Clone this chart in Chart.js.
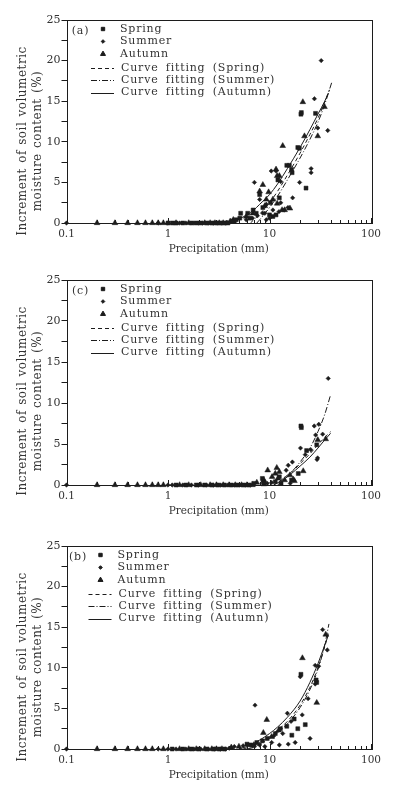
<!DOCTYPE html>
<html>
<head>
<meta charset="utf-8">
<script src="https://cdn.jsdelivr.net/npm/chart.js@4.4.0/dist/chart.umd.min.js"></script>
<style>
body { margin: 0; background: #fff; width: 395px; height: 797px; position: relative; overflow: hidden; }
.panel { position: absolute; left: 0; width: 395px; }
</style>
</head>
<body>
<div class="panel" style="top:0px"><canvas id="chartA" width="395" height="265"></canvas></div>
<div class="panel" style="top:260px"><canvas id="chartC" width="395" height="267"></canvas></div>
<div class="panel" style="top:526px"><canvas id="chartB" width="395" height="265"></canvas></div>
<script>
var precipTicks = [0.1, 1, 10, 100];
var seasons = ['Spring', 'Summer', 'Autumn'];
var fitLabels = ['Curve fitting (Spring)', 'Curve fitting (Summer)', 'Curve fitting (Autumn)'];

// panel (a): [precipitation mm, increment %]
var aSpring = [[4.5,0.2],[4.7,0.4],[5.1,0.6],[5.2,1.2],[6.1,1.2],[6.4,0.6],[6.9,1.6],[7.4,1.2],[8.0,3.5],[8.6,1.9],[10,1.0],[10.2,2.5],[10.8,0.8],[11.6,1.0],[12.1,5.3],[12.5,3.1],[14.8,7.1],[15.7,7.1],[16.5,6.6],[16.7,6.2],[19.0,9.3],[19.7,9.2],[20.4,13.4],[20.6,13.6],[22.9,4.3],[28.4,13.5]];
var aSpringZero = [1.0,1.1,1.2,1.4,1.7,1.9,2.1,2.4,2.7,3.0,3.3,3.6,3.9];
var aSummer = [[3.8,0.1],[4.3,0.3],[5.9,0.4],[6.8,0.6],[7.1,5.0],[7.6,0.9],[8.0,2.9],[8.6,1.2],[9.0,1.2],[9.3,2.3],[9.3,0.4],[10,0.6],[10.4,6.4],[10.8,1.6],[11.6,6.4],[12.4,1.4],[12.9,5.1],[12.9,2.5],[14.0,1.6],[15.2,1.9],[16.9,3.1],[19.8,5.0],[25.7,6.7],[25.7,6.2],[27.7,15.3],[29.9,11.7],[32.3,20.0],[37.5,11.4]];
var aSummerZero = [0.1,0.8,1.0,1.3,1.5,1.8,2.0,2.2,2.5,2.8,3.1,3.4,3.7];
var aAutumn = [[4.1,0.2],[4.4,0.4],[5.9,0.8],[6.85,1.2],[8.0,3.9],[8.6,4.7],[9.0,2.1],[9.3,2.9],[9.8,3.8],[10.8,2.9],[11.6,6.6],[11.9,5.8],[11.9,2.4],[12.5,5.8],[13.3,1.6],[13.5,9.5],[14.1,1.6],[15.9,1.8],[21.3,14.9],[22.1,10.7],[29.9,10.7],[34.8,14.3]];
var aAutumnZero = [0.2,0.3,0.4,0.5,0.6,0.7,0.8,0.9,1.2,1.6,2.3,2.6,2.9,3.2,3.5];
var aSpringFit = [[6.5,0],[7,0.4],[8,1.1],[10,2.5],[12,3.9],[15,5.9],[20,8.6],[25,10.9],[30,12.9],[35,14.9],[39,16.4]];
var aSummerFit = [[7.5,0],[8,0.4],[10,1.9],[12,3.3],[15,5.3],[20,8.0],[25,10.3],[30,12.4],[35,14.6],[41,17.3]];
var aAutumnFit = [[4,0],[5,0.5],[6,1.0],[7,1.6],[8,2.3],[10,3.5],[12,4.8],[15,6.7],[20,9.3],[25,11.5],[30,13.4],[35,15.0],[38,16.0]];

// panel (c)
var cSpring = [[7,0.2],[8.7,0.4],[8.8,0.3],[8.5,0.8],[11.4,0.4],[12.5,1.0],[13,0.2],[16.5,0.6],[19.2,1.4],[20.4,7.2],[20.6,7.0],[23.2,4.2],[29.2,4.9]];
var cSpringZero = [1.2,1.5,1.9,2.3,2.7,3.1,3.6,4.2,4.8,5.5,6.2];
var cSummer = [[9.5,0.2],[10.5,0.3],[14.6,1.8],[15.3,2.4],[16.8,2.8],[16,0.2],[20.2,4.5],[22.5,3.7],[25.5,4.3],[27.6,7.2],[28.5,6.1],[29.4,3.1],[29.8,3.3],[30.6,7.4],[33.4,6.2],[37.9,13.0]];
var cSummerZero = [0.1,1.0,1.1,1.4,1.7,2.0,2.4,2.8,3.3,3.9,4.5,5.1,5.8,6.5];
var cAutumn = [[7.5,0.3],[8.8,0.6],[8.8,0.1],[9.6,1.8],[10.6,1.0],[11.4,1.4],[11.8,2.1],[12.1,0.8],[12.5,1.6],[14.1,0.6],[15.9,1.2],[17.1,0.7],[17.6,0.5],[21.5,1.7],[29.9,5.5],[35.8,5.6]];
var cAutumnZero = [0.2,0.3,0.4,0.5,0.6,0.7,0.8,0.9,1.3,1.6,2.1,2.6,3.0,3.5,4.0,4.6,5.3,6.0,6.8];
var cSpringFit = [[11,0],[13,0.6],[15,1.2],[18,2.0],[20,2.6],[25,3.8],[30,4.9],[35,5.8],[40,6.5]];
var cSummerFit = [[12,0],[14,0.7],[16,1.4],[20,2.8],[25,4.5],[30,6.5],[35,8.6],[40,11.0]];
var cAutumnFit = [[11,0],[13,0.5],[15,1.0],[18,1.8],[20,2.3],[25,3.4],[30,4.5],[35,5.5],[40,6.3]];

// panel (b)
var bSpring = [[6,0.6],[6.5,0.5],[7,0.4],[7.5,0.8],[8.5,1.0],[9.5,1.3],[11.4,1.9],[12.8,2.5],[14.8,2.8],[16.6,1.7],[17.5,3.7],[19.0,2.5],[20.4,9.2],[22.5,3.0],[29.2,8.2],[28.8,8.5]];
var bSpringZero = [1.1,1.4,1.7,2.0,2.4,2.8,3.2,3.6];
var bSummer = [[4.0,0.1],[4.5,0.3],[5.5,0.4],[7.2,5.4],[8,0.5],[9,0.3],[10.5,0.8],[11,1.6],[12.5,0.5],[13.5,1.9],[15.0,4.4],[15.3,0.6],[16.3,3.4],[17.9,0.8],[20.1,8.9],[21,4.2],[24,6.2],[25.1,1.3],[28.2,10.3],[30.5,10.2],[28.2,8.0],[33.4,14.7],[37.1,12.2]];
var bSummerZero = [0.1,0.8,1.0,1.2,1.5,1.8,2.1,2.5,2.9,3.3,3.7];
var bAutumn = [[4.2,0.2],[5,0.3],[7,0.5],[8.7,2.0],[9.4,3.6],[10.5,1.5],[12.3,2.3],[21.1,11.2],[29.2,5.7],[35.8,14.1]];
var bAutumnZero = [0.2,0.3,0.4,0.5,0.6,0.7,0.9,1.3,1.6,1.9,2.3,2.7,3.0,3.4];
var bSpringFit = [[5.5,0],[7,0.4],[8,0.8],[10,1.5],[12,2.3],[15,3.4],[20,5.4],[25,7.6],[30,10.0],[35,12.6],[38,14.2]];
var bSummerFit = [[6,0],[7,0.2],[8,0.6],[10,1.3],[12,2.0],[15,3.1],[20,5.1],[25,7.3],[30,9.8],[35,12.8],[38.5,15.4]];
var bAutumnFit = [[5,0],[6,0.3],[7,0.7],[8,1.1],[10,1.9],[12,2.7],[15,3.9],[20,5.9],[25,8.2],[30,10.5],[35,12.8],[38,14.0]];

var ink = '#1c1c1c';
var textInk = '#333';
var serif = 'DejaVu Serif';
var markerStyle = [
  { pointStyle: 'rect', radius: 2.8 },
  { pointStyle: 'rectRot', radius: 2.2 },
  { pointStyle: 'triangle', radius: 3.3 }
];
var dashes = [[4, 3], [6, 2, 1, 2], []];

function pts(pairs, zeros) {
  var out = pairs.map(function (p) { return { x: p[0], y: p[1] }; });
  zeros.forEach(function (x) { out.push({ x: x, y: 0 }); });
  return out;
}

function spacing(ctx, letters, words) {
  try { ctx.letterSpacing = letters + 'px'; ctx.wordSpacing = words + 'px'; } catch (e) {}
}

var framePlugin = {
  id: 'frame',
  afterDatasetsDraw: function (chart, args, opts) {
    var ctx = chart.ctx, a = chart.chartArea, xs = chart.scales.x;
    ctx.save();
    ctx.strokeStyle = ink;
    ctx.lineWidth = 1;
    ctx.strokeRect(Math.round(a.left) + 0.5, Math.round(a.top) + 0.5, Math.round(a.right - a.left), Math.round(a.bottom - a.top));
    // inward ticks on the log axis
    ctx.beginPath();
    [0.1, 1, 10].forEach(function (d) {
      for (var k = 1; k <= 10; k++) {
        var px = Math.round(xs.getPixelForValue(d * k)) + 0.5;
        var len = (k === 1 || k === 10) ? 5 : 3;
        ctx.moveTo(px, a.bottom);
        ctx.lineTo(px, a.bottom - len);
      }
    });
    ctx.stroke();

    // y title, two lines
    ctx.fillStyle = textInk;
    ctx.font = '12px "' + serif + '"';
    ctx.textAlign = 'center';
    ctx.textBaseline = 'middle';
    spacing(ctx, 0.5, 1);
    ctx.save();
    ctx.translate(23, 141);
    ctx.rotate(-Math.PI / 2);
    ctx.fillText('Increment of soil volumetric', 0, 0);
    ctx.restore();
    ctx.save();
    ctx.translate(38, 141);
    ctx.rotate(-Math.PI / 2);
    ctx.fillText('moisture content (%)', 0, 0);
    ctx.restore();

    // panel letter and legend
    var lx = opts.shift || 0;
    spacing(ctx, 0.8, 3);
    ctx.font = '11px "' + serif + '"';
    ctx.textAlign = 'center';
    ctx.fillText(opts.letter, 80.5 + lx, a.top + 11);
    ctx.textAlign = 'left';
    var ds = chart.data.datasets;
    for (var i = 0; i < 3; i++) {
      var y = a.top + 9 + i * 12.5;
      ctx.fillStyle = ink;
      ctx.strokeStyle = ink;
      Chart.helpers.drawPoint(ctx, { pointStyle: ds[i].pointStyle, radius: ds[i].pointRadius - 0.4, rotation: 0, borderWidth: 1 }, 103 + lx, y);
      ctx.fillStyle = textInk;
      ctx.fillText(ds[i].label, 120 + lx, y);
    }
    for (var j = 0; j < 3; j++) {
      var yy = a.top + 48 + j * 12.3;
      ctx.strokeStyle = ink;
      ctx.setLineDash(ds[3 + j].borderDash);
      ctx.beginPath();
      ctx.moveTo(91 + lx, Math.round(yy) + 0.5);
      ctx.lineTo(114 + lx, Math.round(yy) + 0.5);
      ctx.stroke();
      ctx.setLineDash([]);
      ctx.fillStyle = textInk;
      ctx.fillText(ds[3 + j].label, 121 + lx, yy);
    }
    spacing(ctx, 0, 0);
    ctx.restore();
  }
};

function makePanel(id, letter, shift, series, zeros, fits) {
  var datasets = [];
  series.forEach(function (s, i) {
    datasets.push({
      type: 'scatter',
      label: seasons[i],
      data: pts(s, zeros[i]),
      pointStyle: markerStyle[i].pointStyle,
      pointRadius: markerStyle[i].radius,
      backgroundColor: ink,
      borderColor: ink,
      borderWidth: 0.5,
      clip: false
    });
  });
  fits.forEach(function (f, i) {
    datasets.push({
      type: 'line',
      label: fitLabels[i],
      data: pts(f, []),
      borderColor: ink,
      borderWidth: 1,
      borderDash: dashes[i],
      pointRadius: 0,
      fill: false,
      cubicInterpolationMode: 'monotone',
      clip: false
    });
  });

  return new Chart(document.getElementById(id), {
    type: 'scatter',
    data: { datasets: datasets },
    options: {
      responsive: false,
      animation: false,
      devicePixelRatio: 1,
      layout: { padding: { top: 20, right: 24, left: 0, bottom: 0 } },
      plugins: {
        legend: { display: false },
        tooltip: { enabled: false },
        frame: { letter: letter, shift: shift }
      },
      scales: {
        x: {
          type: 'logarithmic',
          min: 0.1,
          max: 100,
          afterBuildTicks: function (s) { s.ticks = precipTicks.map(function (v) { return { value: v }; }); },
          afterFit: function (s) { s.height = 42; },
          grid: { display: false, drawTicks: false },
          border: { display: false },
          ticks: {
            color: textInk,
            font: { family: serif, size: 10.5 },
            padding: 5,
            maxRotation: 0,
            autoSkip: false,
            callback: function (v) { return String(v); }
          },
          title: {
            display: true,
            text: 'Precipitation (mm)',
            color: textInk,
            font: { family: serif, size: 10.5 },
            padding: { top: 9, bottom: 9 }
          }
        },
        y: {
          min: 0,
          max: 25,
          afterFit: function (s) { s.width = 66.5; },
          grid: { drawOnChartArea: false, tickLength: 5, color: ink },
          border: { display: false },
          ticks: {
            stepSize: 2.5,
            color: textInk,
            font: { family: serif, size: 11 },
            padding: 1,
            callback: function (v) { return v % 5 === 0 ? String(v) : ''; }
          }
        }
      }
    },
    plugins: [framePlugin]
  });
}

makePanel('chartA', '(a)', 0,
  [aSpring, aSummer, aAutumn], [aSpringZero, aSummerZero, aAutumnZero], [aSpringFit, aSummerFit, aAutumnFit]);
makePanel('chartC', '(c)', 0,
  [cSpring, cSummer, cAutumn], [cSpringZero, cSummerZero, cAutumnZero], [cSpringFit, cSummerFit, cAutumnFit]);
makePanel('chartB', '(b)', -2.5,
  [bSpring, bSummer, bAutumn], [bSpringZero, bSummerZero, bAutumnZero], [bSpringFit, bSummerFit, bAutumnFit]);
</script>
</body>
</html>
